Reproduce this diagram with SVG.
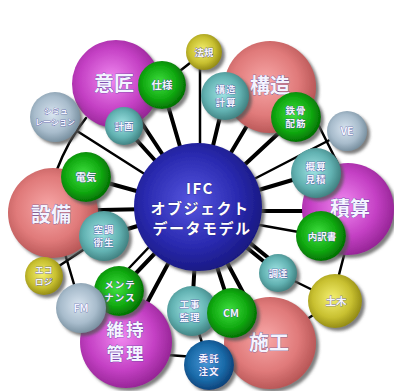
<svg xmlns="http://www.w3.org/2000/svg" width="394" height="391" viewBox="0 0 394 391">
<defs>
<style>
.sp{stroke:none;filter:url(#sh)}
.ln{stroke:#000;stroke-width:4;fill:none;stroke-linecap:round}
.tn{stroke:#000;stroke-width:2.5;fill:none;stroke-linecap:round}
text{font-family:"Noto Sans CJK JP","Noto Sans",sans-serif;font-weight:bold;text-anchor:middle;fill:#f4f4ff;stroke:#3a3a90;stroke-width:0.5;paint-order:stroke}
.b{font-size:20px}
.b2{font-size:17.5px;letter-spacing:2px}
.m{font-size:10.5px}
.m2{font-size:9.5px;letter-spacing:1px}
.s{font-size:9.5px}
.s2{font-size:8.5px;letter-spacing:0.5px}
.c{font-size:15px;fill:#fff;stroke:#202060;letter-spacing:1.5px}
</style>
<filter id="sh" x="-20%" y="-20%" width="150%" height="150%">
<feDropShadow dx="3" dy="3" stdDeviation="1.5" flood-color="#555" flood-opacity="0.75"/>
</filter>
<radialGradient id="gB" cx="45%" cy="45%" r="60%"><stop offset="0" stop-color="#5656e0"/><stop offset="0.6" stop-color="#2a2ab0"/><stop offset="1" stop-color="#16167a"/></radialGradient>
<radialGradient id="gM" cx="45%" cy="45%" r="60%"><stop offset="0" stop-color="#f088f0"/><stop offset="0.6" stop-color="#c440c4"/><stop offset="1" stop-color="#8e208e"/></radialGradient>
<radialGradient id="gP" cx="45%" cy="45%" r="60%"><stop offset="0" stop-color="#f8a8a8"/><stop offset="0.6" stop-color="#e07a7a"/><stop offset="1" stop-color="#b05050"/></radialGradient>
<radialGradient id="gG" cx="45%" cy="45%" r="60%"><stop offset="0" stop-color="#40e040"/><stop offset="0.6" stop-color="#10a810"/><stop offset="1" stop-color="#006400"/></radialGradient>
<radialGradient id="gT" cx="45%" cy="45%" r="60%"><stop offset="0" stop-color="#a0e4e4"/><stop offset="0.6" stop-color="#62b2b2"/><stop offset="1" stop-color="#3a7878"/></radialGradient>
<radialGradient id="gL" cx="45%" cy="45%" r="60%"><stop offset="0" stop-color="#d8e4f0"/><stop offset="0.6" stop-color="#a8bccc"/><stop offset="1" stop-color="#708898"/></radialGradient>
<radialGradient id="gY" cx="45%" cy="45%" r="60%"><stop offset="0" stop-color="#f4f070"/><stop offset="0.6" stop-color="#c8c030"/><stop offset="1" stop-color="#888010"/></radialGradient>
<radialGradient id="gS" cx="45%" cy="45%" r="60%"><stop offset="0" stop-color="#4898d8"/><stop offset="0.6" stop-color="#1a6aa8"/><stop offset="1" stop-color="#0a3a70"/></radialGradient>
</defs>
<rect width="394" height="391" fill="#fff"/>
<g id="connectors">
<line class="ln" x1="162" y1="85" x2="198" y2="208"/>
<line class="ln" x1="116" y1="84" x2="198" y2="208"/>
<line class="ln" x1="124" y1="126" x2="198" y2="208"/>
<line class="tn" x1="55" y1="117" x2="198" y2="208"/>
<path class="tn" d="M86,118 Q68,140 56,172"/>
<line class="ln" x1="86" y1="177" x2="198" y2="208"/>
<line class="ln" x1="53" y1="211" x2="198" y2="208"/>
<line class="ln" x1="104" y1="236" x2="198" y2="208"/>
<line class="tn" x1="200" y1="55" x2="200" y2="160"/>
<line class="tn" x1="204" y1="52" x2="162" y2="85"/>
<line class="ln" x1="225" y1="96" x2="198" y2="208"/>
<line class="ln" x1="270" y1="87" x2="198" y2="208"/>
<line class="ln" x1="296" y1="117" x2="198" y2="208"/>
<line class="tn" x1="347" y1="131" x2="198" y2="208"/>
<line class="tn" x1="316" y1="120" x2="346" y2="180"/>
<line class="ln" x1="316" y1="173" x2="198" y2="208"/>
<line class="ln" x1="348" y1="211" x2="198" y2="211"/>
<line class="tn" x1="321" y1="236" x2="198" y2="214"/>
<line class="ln" x1="278" y1="273" x2="198" y2="208"/>
<line class="ln" x1="282" y1="269" x2="202" y2="204"/>
<line class="tn" x1="278" y1="273" x2="335" y2="301"/>
<line class="tn" x1="348" y1="240" x2="335" y2="290"/>
<line class="tn" x1="335" y1="301" x2="270" y2="343"/>
<line class="ln" x1="270" y1="343" x2="198" y2="208"/>
<line class="ln" x1="232" y1="313" x2="198" y2="208"/>
<line class="ln" x1="192" y1="311" x2="198" y2="208"/>
<line class="tn" x1="192" y1="311" x2="209" y2="365"/>
<line class="tn" x1="126" y1="352" x2="209" y2="358"/>
<line class="ln" x1="126" y1="342" x2="198" y2="208"/>
<line class="ln" x1="119" y1="291" x2="198" y2="208"/>
<line class="tn" x1="112" y1="286" x2="191" y2="203"/>
<line class="tn" x1="44" y1="276" x2="104" y2="236"/>
<line class="tn" x1="53" y1="213" x2="81" y2="308"/>
</g>
<g id="n-ifc"><circle class="sp" cx="198" cy="207" r="64" fill="url(#gB)"/>
<text class="c"><tspan x="200" y="194">IFC</tspan><tspan x="200" dy="20">オブジェクト</tspan><tspan x="202" dy="20">データモデル</tspan></text></g>
<g id="n-isho"><circle class="sp" cx="116" cy="84" r="44" fill="url(#gM)"/><text class="b" x="114" y="91">意匠</text></g>
<g id="n-kozo"><circle class="sp" cx="270" cy="87" r="46" fill="url(#gP)"/><text class="b" x="270" y="93">構造</text></g>
<g id="n-sekisan"><circle class="sp" cx="348" cy="209" r="46" fill="url(#gM)"/><text class="b" x="350" y="216">積算</text></g>
<g id="n-setsubi"><circle class="sp" cx="53" cy="213" r="45" fill="url(#gP)"/><text class="b" x="51" y="222">設備</text></g>
<g id="n-iji"><circle class="sp" cx="126" cy="342" r="46" fill="url(#gM)"/><text class="b2"><tspan x="126" y="336">維持</tspan><tspan x="126" dy="24">管理</tspan></text></g>
<g id="n-seko"><circle class="sp" cx="270" cy="343" r="46" fill="url(#gP)"/><text class="b" x="269" y="350">施工</text></g>
<g id="n-hoki"><circle class="sp" cx="204" cy="52" r="18" fill="url(#gY)"/><text class="s" x="204" y="56">法規</text></g>
<g id="n-shiyo"><circle class="sp" cx="162" cy="85" r="24" fill="url(#gG)"/><text class="m" x="162" y="89">仕様</text></g>
<g id="n-keikaku"><circle class="sp" cx="124" cy="126" r="19" fill="url(#gT)"/><text class="s" x="124" y="130">計画</text></g>
<g id="n-sim"><circle class="sp" cx="55" cy="117" r="25" fill="url(#gL)"/><text style="font-size:8px"><tspan x="56" y="114">シミュ</tspan><tspan x="55" dy="11">レーション</tspan></text></g>
<g id="n-denki"><circle class="sp" cx="86" cy="177" r="25" fill="url(#gG)"/><text class="m" x="86" y="181">電気</text></g>
<g id="n-kozokeisan"><circle class="sp" cx="225" cy="96" r="24" fill="url(#gT)"/><text class="m2"><tspan x="226" y="93">構造</tspan><tspan x="226" dy="13">計算</tspan></text></g>
<g id="n-tekkotsu"><circle class="sp" cx="296" cy="117" r="25" fill="url(#gG)"/><text class="m2"><tspan x="296" y="114">鉄骨</tspan><tspan x="296" dy="13">配筋</tspan></text></g>
<g id="n-ve"><circle class="sp" cx="347" cy="131" r="20" fill="url(#gL)"/><text class="m" x="347" y="135">VE</text></g>
<g id="n-gaisan"><circle class="sp" cx="316" cy="173" r="25" fill="url(#gT)"/><text class="m2"><tspan x="316" y="170">概算</tspan><tspan x="316" dy="13">見積</tspan></text></g>
<g id="n-uchiwake"><circle class="sp" cx="321" cy="236" r="25" fill="url(#gG)"/><text class="s" x="322" y="240">内訳書</text></g>
<g id="n-chotatsu"><circle class="sp" cx="278" cy="273" r="19" fill="url(#gT)"/><text class="s" x="278" y="277">調達</text></g>
<g id="n-doboku"><circle class="sp" cx="335" cy="301" r="27" fill="url(#gY)"/><text class="m" x="336" y="305">土木</text></g>
<g id="n-koji"><circle class="sp" cx="192" cy="311" r="25" fill="url(#gT)"/><text class="m2"><tspan x="190" y="308">工事</tspan><tspan x="190" dy="13">監理</tspan></text></g>
<g id="n-itaku"><circle class="sp" cx="209" cy="365" r="25" fill="url(#gS)"/><text class="m2"><tspan x="209" y="362">委託</tspan><tspan x="209" dy="13">注文</tspan></text></g>
<g id="n-cm"><circle class="sp" cx="232" cy="313" r="25" fill="url(#gG)"/><text class="m" x="231" y="317">CM</text></g>
<g id="n-kucho"><circle class="sp" cx="104" cy="236" r="25" fill="url(#gT)"/><text class="m2"><tspan x="104" y="233">空調</tspan><tspan x="104" dy="13">衛生</tspan></text></g>
<g id="n-eco"><circle class="sp" cx="44" cy="276" r="19" fill="url(#gY)"/><text class="s2"><tspan x="44" y="273">エコ</tspan><tspan x="44" dy="12">ロジ</tspan></text></g>
<g id="n-maint"><circle class="sp" cx="119" cy="291" r="25" fill="url(#gG)"/><text class="m2"><tspan x="120" y="288">メンテ</tspan><tspan x="120" dy="13">ナンス</tspan></text></g>
<g id="n-fm"><circle class="sp" cx="81" cy="308" r="25" fill="url(#gL)"/><text class="m" x="81" y="312">FM</text></g>
</svg>
